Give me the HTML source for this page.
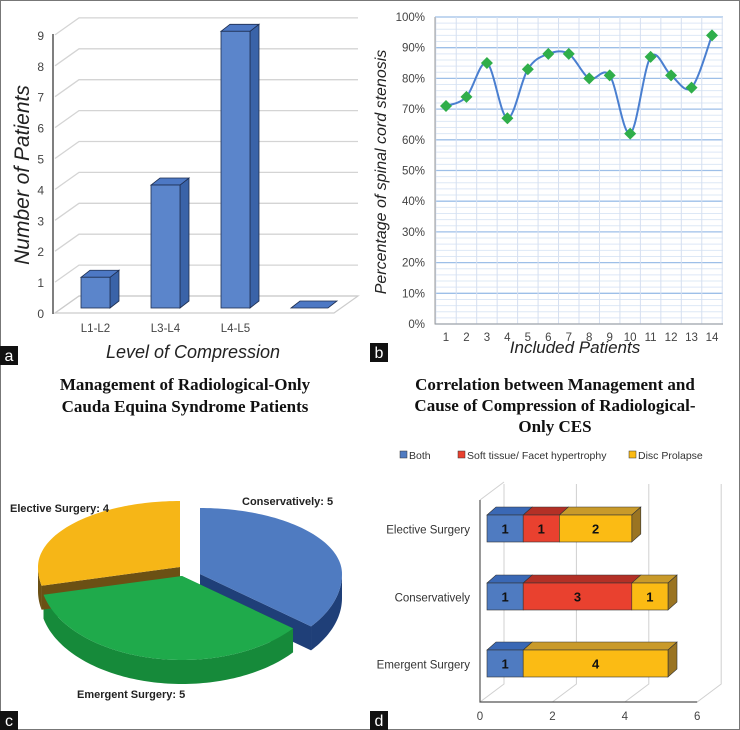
<!DOCTYPE html>
<html><head><meta charset="utf-8"><style>
body{margin:0;background:#fff}
svg{display:block;font-family:"Liberation Sans",sans-serif}
</style></head><body>
<svg id="fig" width="740" height="730" viewBox="0 0 740 730">
<rect x="0.5" y="0.5" width="739" height="729" fill="#fff" stroke="#777"/>
<g id="pa"></g>
<g id="pb"></g>
<g id="pc"></g>
<g id="pd"></g>
</svg>
<script>
// ---------- data ----------
const aCategories = ["L1-L2","L3-L4","L4-L5",""];
const aValues = [1,4,9,0];
const aTicks = [0,1,2,3,4,5,6,7,8,9];

const bPatients = [1,2,3,4,5,6,7,8,9,10,11,12,13,14];
const bValues = [71,74,85,67,83,88,88,80,81,62,87,81,77,94];
const bTicks = [0,10,20,30,40,50,60,70,80,90,100];

const cLabels = ["Conservatively","Emergent Surgery","Elective Surgery"];
const cValues = [5,5,4];

const dCategories = ["Elective Surgery","Conservatively","Emergent Surgery"];
const dSeriesNames = ["Both","Soft tissue/ Facet hypertrophy","Disc Prolapse"];
const dBoth = [1,1,1];
const dSoft = [1,3,0];
const dDisc = [2,1,4];
const dTicks = [0,2,4,6];

const NS="http://www.w3.org/2000/svg";
function mk(parent,tag,attrs,text){const e=document.createElementNS(NS,tag);for(const k in attrs)e.setAttribute(k,attrs[k]);if(text!==undefined)e.textContent=text;parent.appendChild(e);return e;}
function label(parent,x,y,ch){
  const r=mk(parent,'rect',{x:x,y:y,width:18,height:19,fill:'#111'});
  
  
  const t=mk(parent,'text',{x:x+9,y:y+15,'text-anchor':'middle','font-size':16,fill:'#fff'},ch);
  
  
}

// ---------- panel a ----------
(function(){
  const g=document.getElementById('pa');
  const y0=310, unit=30.9, dx=24, dy=-17;
  const ya=v=>y0-v*unit;
  aTicks.forEach(v=>{
    const y=ya(v);
    const l=mk(g,'polyline',{points:`${55},${y+3} ${55+dx},${y+3+dy} 358,${y+3+dy}`,fill:'none',stroke:'#d4d4d4','stroke-width':1.3});
    
    
    const t=mk(g,'text',{x:44,y:y+8,'text-anchor':'end','font-size':12,fill:'#444'},String(v));
    
    
  });
  const floor=mk(g,'polygon',{points:`55,313 ${55+dx},${313+dy} 358,${313+dy} 334,313`,fill:'none',stroke:'#ccc','stroke-width':1.2});
  
  
  const ax=mk(g,'line',{x1:53,y1:34,x2:53,y2:314,stroke:'#555','stroke-width':1.5});
  
  
  const barBase=308, bw=29, bd=9, bdy=-7;
  aCategories.forEach((c,i)=>{
    const x=81+i*70, v=aValues[i], top=barBase-v*unit*(0.995);
    const grp=mk(g,'g',{});
    
    
    if(v>0){
      mk(grp,'polygon',{points:`${x+bw},${top} ${x+bw+bd},${top+bdy} ${x+bw+bd},${barBase+bdy} ${x+bw},${barBase}`,fill:'#3a63a8',stroke:'#1e2e50','stroke-width':0.8});
      mk(grp,'polygon',{points:`${x},${top} ${x+bd},${top+bdy} ${x+bw+bd},${top+bdy} ${x+bw},${top}`,fill:'#4d78c4',stroke:'#1e2e50','stroke-width':0.8});
      mk(grp,'rect',{x:x,y:top,width:bw,height:barBase-top,fill:'#5b85cb',stroke:'#1e2e50','stroke-width':0.8});
    } else {
      mk(grp,'polygon',{points:`${x},${barBase} ${x+bd},${barBase+bdy} ${x+bw+8+bd},${barBase+bdy} ${x+bw+8},${barBase}`,fill:'#4d78c4',stroke:'#1e2e50','stroke-width':0.8});
    }
    if(c){const t=mk(g,'text',{x:x+bw/2,y:332,'text-anchor':'middle','font-size':11.5,fill:'#444'},c);
    
    }
  });
  const yt=mk(g,'text',{x:0,y:0,transform:'translate(29,175) rotate(-90)','text-anchor':'middle','font-size':21,'font-style':'italic',fill:'#222'},'Number of Patients');
  
  
  const xt=mk(g,'text',{x:193,y:358,'text-anchor':'middle','font-size':18,'font-style':'italic',fill:'#222'},'Level of Compression');
  
  
  label(g,0,346,'a');
})();

// ---------- panel b ----------
(function(){
  const g=document.getElementById('pb');
  const L=435,R=723,T=17,B=324;
  const y=v=>B-(v/100)*(B-T);
  const x=p=>446+(p-1)*(712-446)/13;
  for(let v=0;v<=100;v+=2){
    const maj=v%10===0;
    const l=mk(g,'line',{x1:L,x2:R,y1:y(v),y2:y(v),stroke:maj?'#9dbfe8':'#dde8f6','stroke-width':maj?1.3:1});
    
    
  }
  for(let p=0;p<=14;p++){
    const xx=x(p+0.5);
    const l=mk(g,'line',{x1:xx,x2:xx,y1:T,y2:B,stroke:'#d5dff0','stroke-width':1});
    
    
  }
  const axl=mk(g,'polyline',{points:`${L},${T} ${L},${B} ${R},${B}`,fill:'none',stroke:'#999','stroke-width':1});
  
  
  bTicks.forEach(v=>{const t=mk(g,'text',{x:425,y:y(v)+4,'text-anchor':'end','font-size':11.5,fill:'#444'},v+'%');
    
    });
  bPatients.forEach(p=>{const t=mk(g,'text',{x:x(p),y:341,'text-anchor':'middle','font-size':11.5,fill:'#444'},String(p));
    
    });
  const pts=bPatients.map((p,i)=>[x(p),y(bValues[i])]);
  let d=`M${pts[0][0]},${pts[0][1]}`;
  for(let i=0;i<pts.length-1;i++){
    const p0=pts[Math.max(0,i-1)],p1=pts[i],p2=pts[i+1],p3=pts[Math.min(pts.length-1,i+2)];
    const c1=[p1[0]+(p2[0]-p0[0])/6,p1[1]+(p2[1]-p0[1])/6],c2=[p2[0]-(p3[0]-p1[0])/6,p2[1]-(p3[1]-p1[1])/6];
    d+=` C${c1[0]},${c1[1]} ${c2[0]},${c2[1]} ${p2[0]},${p2[1]}`;
  }
  const ln=mk(g,'path',{d:d,fill:'none',stroke:'#4a7fd0','stroke-width':2});
  
  
  pts.forEach(p=>{const m=mk(g,'polygon',{points:`${p[0]},${p[1]-6} ${p[0]+6},${p[1]} ${p[0]},${p[1]+6} ${p[0]-6},${p[1]}`,fill:'#2fae4a'});
    
    });
  const yt=mk(g,'text',{x:0,y:0,transform:'translate(386,172) rotate(-90)','text-anchor':'middle','font-size':16,'font-style':'italic',fill:'#222'},'Percentage of spinal cord stenosis');
  
  
  const xt=mk(g,'text',{x:575,y:353,'text-anchor':'middle','font-size':17,'font-style':'italic',fill:'#222'},'Included Patients');
  
  
  label(g,370,343,'b');
})();

// ---------- panel c ----------
(function(){
  const g=document.getElementById('pc');
  const t1=mk(g,'text',{x:185,y:390,'text-anchor':'middle','font-size':17,'font-weight':'bold','font-family':'Liberation Serif,serif',fill:'#111'},'Management of Radiological-Only');
  
  
  const t2=mk(g,'text',{x:185,y:412,'text-anchor':'middle','font-size':17,'font-weight':'bold','font-family':'Liberation Serif,serif',fill:'#111'},'Cauda Equina Syndrome Patients');
  
  
  const cx=182,cy=576,rx=142,ryB=66,ryF=84,depth=24;
  const tops=['#4f7bc1','#1faa4b','#f6b617'],sides=['#1f3f78','#168a3a','#6b5014'];
  const offs=[[18,-2],[0,0],[-2,-9]];
  const total=cValues.reduce((a,b)=>a+b,0);
  const P=(c,t,dz)=>{const co=Math.cos(t);return [c[0]+rx*Math.sin(t),c[1]-(co>0?ryB:ryF)*co+dz];};
  const arc=(c,a0,a1,dz)=>{const n=Math.max(4,Math.ceil((a1-a0)*40));const r=[];for(let k=0;k<=n;k++){r.push(P(c,a0+(a1-a0)*k/n,dz));}return r;};
  let a=0;const sl=[];
  cValues.forEach((v,i)=>{const a2=a+v/total*2*Math.PI;sl.push([a,a2]);a=a2;});
  sl.forEach((s,i)=>{
    const c=[cx+offs[i][0],cy+offs[i][1]];
    const grp=mk(g,'g',{});
    
    
    [s[0],s[1]].forEach(t=>{
      const p=P(c,t,0);
      mk(grp,'polygon',{points:`${c[0]},${c[1]} ${p[0]},${p[1]} ${p[0]},${p[1]+depth} ${c[0]},${c[1]+depth}`,fill:sides[i]});
    });
    const a0=Math.max(s[0],Math.PI/2),a1=Math.min(s[1],3*Math.PI/2);
    if(a1>a0){
      const top=arc(c,a0,a1,0),bot=arc(c,a0,a1,depth).reverse();
      mk(grp,'polygon',{points:top.concat(bot).map(p=>p.join(',')).join(' '),fill:sides[i]});
    }
  });
  sl.forEach((s,i)=>{
    const c=[cx+offs[i][0],cy+offs[i][1]];
    const pts=[c].concat(arc(c,s[0],s[1],0));
    const p=mk(g,'polygon',{points:pts.map(q=>q.join(',')).join(' '),fill:tops[i]});
    
    
  });
  const lp=[[242,505,'start'],[77,698,'start'],[10,512,'start']];
  cLabels.forEach((l,i)=>{const t=mk(g,'text',{x:lp[i][0],y:lp[i][1],'text-anchor':lp[i][2],'font-size':11,'font-weight':'bold',fill:'#222'},l+': '+cValues[i]);
    
    });
  label(g,0,711,'c');
})();

// ---------- panel d ----------
(function(){
  const g=document.getElementById('pd');
  const t1=mk(g,'text',{x:555,y:390,'text-anchor':'middle','font-size':17,'font-weight':'bold','font-family':'Liberation Serif,serif',fill:'#111'},'Correlation between Management and');
  
  
  const t2=mk(g,'text',{x:555,y:411,'text-anchor':'middle','font-size':17,'font-weight':'bold','font-family':'Liberation Serif,serif',fill:'#111'},'Cause of Compression of Radiological-');
  
  
  const t3=mk(g,'text',{x:555,y:432,'text-anchor':'middle','font-size':17,'font-weight':'bold','font-family':'Liberation Serif,serif',fill:'#111'},'Only CES');
  
  
  const fronts=['#4f7bc1','#e9412f','#fbbb14'],topsC=['#3a68b5','#b33026','#c99a2a'],sidesC=['#2c4f8c','#8a2a20','#9a7422'];
  const legX=[400,458,629];
  dSeriesNames.forEach((n,i)=>{
    const r=mk(g,'rect',{x:legX[i],y:451,width:7,height:7,fill:fronts[i],stroke:'#333','stroke-width':0.5});
    
    
    const t=mk(g,'text',{x:legX[i]+9,y:459,'font-size':10.5,fill:'#333'},n);
    
    
  });
  const x0=480,unit=36.2,dx=24,dy=-18,yb=702,yt=500;
  const X=v=>x0+v*unit;
  dTicks.forEach(v=>{
    const l=mk(g,'polyline',{points:`${X(v)},${yb} ${X(v)+dx},${yb+dy} ${X(v)+dx},${yt+dy+2}`,fill:'none',stroke:'#d0d0d0','stroke-width':1});
    
    
    const t=mk(g,'text',{x:X(v),y:720,'text-anchor':'middle','font-size':11.5,fill:'#444'},String(v));
    
    
  });
  const wall=mk(g,'line',{x1:x0,y1:yt,x2:x0+dx,y2:yt+dy,stroke:'#d0d0d0'});
  
  
  const ax=mk(g,'polyline',{points:`${x0},${yt} ${x0},${yb} ${X(6)},${yb}`,fill:'none',stroke:'#555','stroke-width':1.2});
  
  
  const barTops=[515,583,650],bh=27,bd=9,bdy=-8,bx=487;
  const B=v=>bx+v*unit;
  const series=[dBoth,dSoft,dDisc];
  dCategories.forEach((c,ci)=>{
    const t=mk(g,'text',{x:470,y:barTops[ci]+bh/2+5,'text-anchor':'end','font-size':11.5,fill:'#333'},c);
    
    
    let acc=0;const y=barTops[ci];
    const segs=[];
    series.forEach((s,si)=>{if(s[ci]>0){segs.push([si,acc,acc+s[ci]]);acc+=s[ci];}});
    segs.forEach((sg,k)=>{
      const [si,a,b]=sg,xa=B(a),xb=B(b);
      const grp=mk(g,'g',{});
      
      
      mk(grp,'polygon',{points:`${xa},${y} ${xa+bd},${y+bdy} ${xb+bd},${y+bdy} ${xb},${y}`,fill:topsC[si],stroke:'#333','stroke-width':0.6});
      if(k===segs.length-1) mk(grp,'polygon',{points:`${xb},${y} ${xb+bd},${y+bdy} ${xb+bd},${y+bh+bdy} ${xb},${y+bh}`,fill:sidesC[si],stroke:'#333','stroke-width':0.6});
      mk(grp,'rect',{x:xa,y:y,width:xb-xa,height:bh,fill:fronts[si],stroke:'#333','stroke-width':0.6});
      mk(grp,'text',{x:(xa+xb)/2,y:y+bh/2+5,'text-anchor':'middle','font-size':13,'font-weight':'bold',fill:'#111'},String(b-a));
    });
  });
  label(g,370,711,'d');
})();
</script>
</body></html>
